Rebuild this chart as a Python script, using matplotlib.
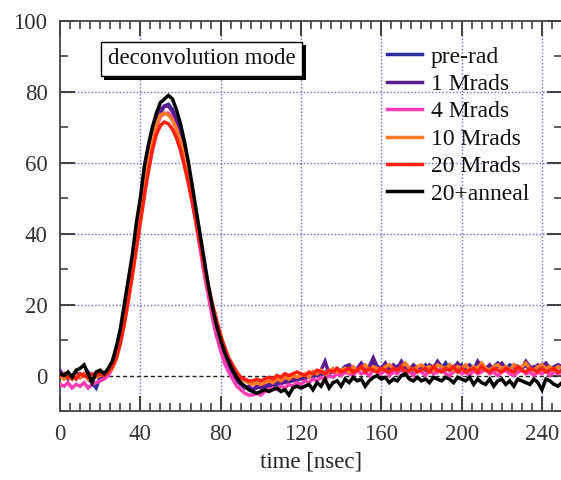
import numpy as np
import matplotlib
matplotlib.use("Agg")
import matplotlib.pyplot as plt
from matplotlib.ticker import MultipleLocator
import matplotlib.patheffects as pe

plt.rcParams['font.family'] = ['Liberation Serif', 'DejaVu Serif']

# sample grid (ns)
time_ns = np.arange(0, 251, 2)

pre_rad = [
    -0.5, 0.5, -1, 0, 1, -0.5, 0.5, -1, -2, -3.5,
    -0.5, 0, 1, 2.5, 5.5, 10, 15.5, 22.5, 30, 38,
    46, 54, 61, 67, 71, 74, 76, 76.5, 75, 72,
    68, 63, 57, 50.5, 44, 37, 30, 24, 18, 13,
    9, 5.5, 3, 1, -1, -2.5, -3, -3.5, -4, -3.5,
    -3, -3.5, -2.5, -3, -2, -2.5, -1.5, -2, -1, -1.5,
    -0.5, -1, 0, -0.5, 0.5, 0, 1, 0.5, 1.5, 0.5,
    1.5, 2.5, 1, 2, 1.5, 3, 1, 2, 3.5, 2,
    1.5, 3, 2, 1, 2.5, 1.5, 3, 2, 1, 2.5,
    2, 3, 1.5, 2.5, 1, 2, 3.5, 1.5, 2.5, 2,
    3, 1.5, 2, 2.5, 1, 3, 2, 1.5, 2.5, 3.5,
    2, 1.5, 3, 2.5, 1, 2, 3, 1.5, 2.5, 2,
    3, 2, 1.5, 2.5, 3, 2,
]
mrad_1 = [
    1.5, -0.5, 0, -1, 0.5, -0.5, 0, 1, -0.5, 0,
    0.5, -0.5, 1.5, 3, 6, 10.5, 16, 23, 30.5, 38.5,
    46.5, 54.5, 61.5, 67.5, 72, 75, 76, 76, 74.5, 71.5,
    67.5, 62.5, 56.5, 50, 43.5, 36.5, 29.5, 23.5, 17.5, 12.5,
    8.5, 5, 2.5, 0.5, -1.5, -2.5, -3.5, -3, -4, -3,
    -3.5, -2.5, -3, -2, -2.5, -1.5, -2, -1, -1.5, -0.5,
    -1, 0, -0.5, 1, 0, 1.5, 4, 0.5, 1.5, 2,
    1, 2.5, 3, 1.5, 2, 3.5, 2, 2.5, 5, 2.5,
    2, 3.5, 1.5, 3, 2, 4, 2.5, 1.5, 3, 2,
    2.5, 1.5, 3, 2, 4, 2.5, 1.5, 3, 2, 3.5,
    2, 2.5, 3, 1.5, 4, 2.5, 2, 3, 1.5, 2.5,
    3.5, 2, 1.5, 3, 2.5, 2, 4, 2.5, 2, 3,
    2.5, 3.5, 2, 1.5, 3, 2.5,
]
mrad_4 = [
    -2.5, -3, -2, -3.5, -2.5, -3, -2, -3.5, -2.5, -2,
    -1.5, -1, 0, 2, 5, 9.5, 15, 22, 29.5, 37.5,
    45.5, 53, 60, 65.5, 70, 73, 74, 74, 72.5, 69.5,
    65.5, 60.5, 55, 48.5, 42, 35, 28, 22, 16, 11,
    7, 3.5, 1, -1, -3, -4, -5, -5.5, -5.5, -5,
    -5.5, -4.5, -4, -3.5, -4, -3, -3.5, -2.5, -3, -2,
    -2.5, -1.5, -2, -1, -1.5, -0.5, -1, 0, -0.5, 0.5,
    0, 1, 0.5, 0, 1.5, 0.5, 1, 0, 1.5, 1,
    0.5, 1.5, 0, 1, 0.5, 2, 0.5, 1, 0, 1.5,
    1, 0, 1.5, 0.5, 1, 2, 0.5, 0, 1, 1.5,
    0.5, 1, 0, 1.5, 0.5, 1, 2, 0.5, 1, 0,
    1, 1.5, 0.5, 0, 1, 1.5, 0.5, 1, 0, 1,
    0.5, 1.5, 0, 1, 0.5, 1,
]
mrad_10 = [
    0, -1, -0.5, -1, 0, -0.5, 0.5, -1, 0, -0.5,
    0, 0.5, 1, 2, 4.5, 9, 14.5, 21.5, 29, 37,
    45, 53, 60, 66, 70.5, 73.5, 74, 73.5, 72, 69.5,
    66, 61.5, 56, 50, 43.5, 37, 30.5, 24.5, 19, 14,
    10, 6.5, 4, 2, 0.5, -1, -1.5, -2, -2.5, -2,
    -2.5, -2, -1.5, -2, -1, -1.5, -0.5, -1, 0, -0.5,
    0, 0.5, -0.5, 1, 0.5, 1.5, 0.5, 1, 2, 1,
    1.5, 2, 1, 2.5, 1.5, 2, 3, 1.5, 2.5, 2,
    1.5, 2.5, 3, 2, 1.5, 2.5, 3.5, 2, 1.5, 2.5,
    3, 2, 2.5, 1.5, 3, 2.5, 2, 3, 1.5, 2.5,
    2, 3, 1.5, 2.5, 2, 3.5, 2, 1.5, 2.5, 3,
    2, 2.5, 1.5, 3, 2, 2.5, 3.5, 2, 1.5, 2.5,
    3, 2, 2.5, 1.5, 2.5, 2,
]
mrad_20 = [
    0, 0.5, -0.5, 0, -1, 0.5, 0, -0.5, 0.5, 0,
    0.5, 0, 1, 2.5, 5, 9, 14.5, 21, 28, 35.5,
    43, 50.5, 57.5, 63.5, 68, 70.5, 71.5, 71, 69.5, 67,
    63.5, 59, 54, 48.5, 42.5, 36.5, 30.5, 25, 20, 15.5,
    11.5, 8, 5, 3, 1, -0.5, -1, -1.5, -1.5, -1,
    -1.5, -1, -0.5, -1, 0, -0.5, 0.5, 0, 0.5, 1,
    0.5, 0, 1, 0.5, 1.5, 1, 0.5, 1.5, 1, 2,
    1, 1.5, 2, 1, 1.5, 2.5, 1, 2, 1.5, 1,
    2, 1.5, 1, 2, 1.5, 2.5, 1, 1.5, 2, 1,
    1.5, 2, 1, 2.5, 1.5, 1, 2, 1.5, 2.5, 1,
    2, 1, 1.5, 2, 1, 2.5, 1.5, 1, 2, 1.5,
    1, 2, 1.5, 1, 2.5, 1.5, 1, 2, 1.5, 1,
    2, 1, 1.5, 2, 1, 1.5,
]
anneal_20 = [
    0.5, 0, 1, -0.5, 1.5, 2, 3, 0.5, -2, 1,
    1.5, 0.5, 2, 4, 8, 13, 20, 27, 34, 43,
    50, 59, 65, 70, 74, 77, 78, 79, 78, 75,
    71, 66, 60, 53, 46, 39, 32, 25, 19, 14,
    10, 6.5, 4, 1.5, -0.5, -2, -3, -4, -4.5, -5,
    -4.5, -4, -4.5, -4, -3.5, -4.5, -4, -5.5, -3.5, -3,
    -3.5, -3, -2.5, -4, -2, -3, -1, -3.5, -2, -1.5,
    -3, -1, -2, -0.5, -1.5, -1, -3, -1.5, -0.5, 0,
    -1, -0.5, -2, -1, -1.5, 0, 0.5, -1, -1.5, -0.5,
    -1.5, -1, -2, -0.5, -1, -1.5, -0.5, -1, -2, -0.5,
    -1, -1.5, -0.5, -2.5, -1, -2, -2.5, -1, -3, -1.5,
    -1, -2.5, -1.5, -3, -1, -1.5, -2, -2.5, -1, -2,
    -4, -1, -1.5, -2.5, -3, -2,
]

labels = ["pre-rad", "1 Mrads", "4 Mrads", "10 Mrads", "20 Mrads", "20+anneal"]
colors = ["#2c2c9c", "#5c1a90", "#ff3cb4", "#ff7a22", "#ff2010", "#000000"]
series = [pre_rad, mrad_1, mrad_4, mrad_10, mrad_20, anneal_20]

W, H = 561, 480
fig = plt.figure(figsize=(W / 100, H / 100), dpi=100)
ax = fig.add_axes([60 / W, (H - 411) / H, 502 / W, 390 / H])

ax.set_xlim(0, 250)
ax.set_ylim(-10, 100)

grid_c = "#6a6ad0"
for gx in [40, 80, 120, 160, 200, 240]:
    ax.axvline(gx, color=grid_c, lw=1.0, ls=(0, (1, 1.5)), zorder=1)
for gy in [20, 40, 60, 80]:
    ax.axhline(gy, color=grid_c, lw=1.0, ls=(0, (1, 1.5)), zorder=1)
ax.axhline(0, color="#222222", lw=1.0, ls=(0, (3, 2)), zorder=1)

for vals, lab, col in zip(series, labels, colors):
    ax.plot(time_ns, vals, color=col, lw=2.5, label=lab, zorder=3,
            solid_joinstyle="miter")

ax.xaxis.set_major_locator(MultipleLocator(40))
ax.xaxis.set_minor_locator(MultipleLocator(5))
ax.yaxis.set_major_locator(MultipleLocator(20))
ax.yaxis.set_minor_locator(MultipleLocator(10))
ax.tick_params(which="both", direction="in", top=True, right=True,
               colors="#333333", labelcolor="#333333", labelsize=16.5)
ax.tick_params(which="major", length=11, width=1.3, pad=9)
ax.tick_params(which="minor", length=6, width=1.1)
for s in ax.spines.values():
    s.set_color("#444444")
    s.set_linewidth(1.3)

ax.set_xlabel("time [nsec]", fontsize=16.5, color="#222222", labelpad=5)

t = ax.text(70.5, 89.3, "deconvolution mode", fontsize=16.5, ha="center", va="center",
            color="#111111", zorder=5,
            bbox=dict(boxstyle="square,pad=0.3", fc="white", ec="black", lw=1.0))
t.get_bbox_patch().set_path_effects([
    pe.withSimplePatchShadow(offset=(2.5, -2.5), shadow_rgbFace="black", alpha=1.0)
])

leg = ax.legend(loc="upper left", bbox_to_anchor=(387 / W, 1 - 46 / H),
                bbox_transform=fig.transFigure, frameon=False, fontsize=17,
                handlelength=1.5, handletextpad=0.35, labelspacing=0.25,
                borderpad=0, borderaxespad=0)
for line in leg.get_lines():
    line.set_linewidth(2.5)
for txt in leg.get_texts():
    txt.set_color("#111111")

fig.savefig("out.png", dpi=100)
